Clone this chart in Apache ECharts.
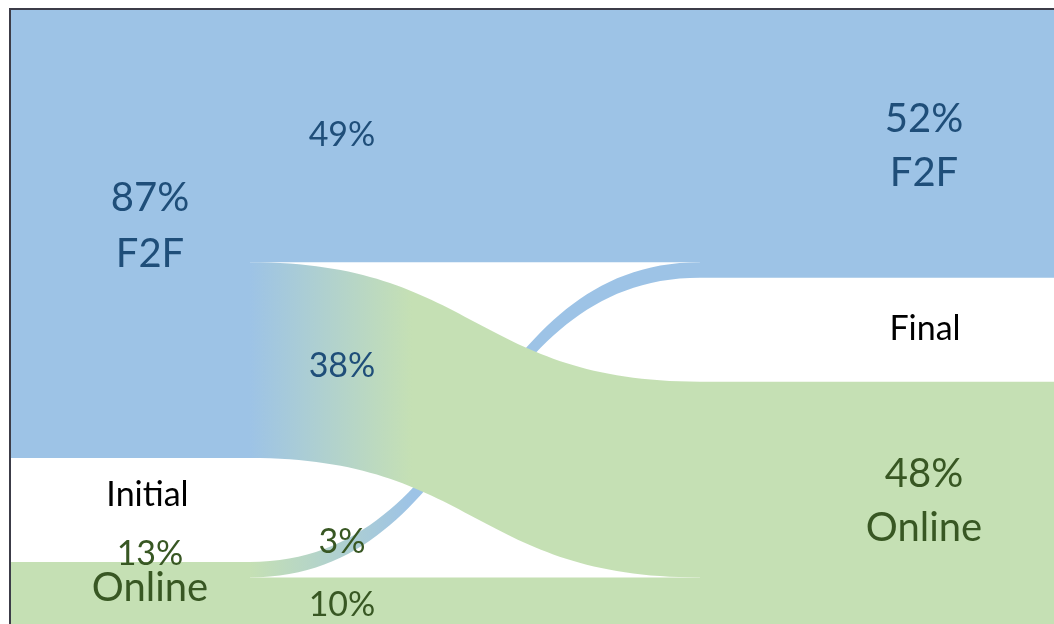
<!DOCTYPE html>
<html>
<head>
<meta charset="utf-8">
<script src="https://cdn.jsdelivr.net/npm/echarts@6/dist/echarts.min.js"></script>
<style>
html, body { margin: 0; padding: 0; background: #ffffff; width: 1054px; height: 624px; overflow: hidden; }
#chart { position: absolute; left: 9px; top: 8px; width: 1043px; height: 614px;
  border-left: 2px solid #3c3c48; border-top: 2px solid #3c3c48; }
</style>
</head>
<body>
<div id="chart"></div>
<script>
// ---- data ----
const stageLabels = ['Initial', 'Final'];
const nodeIds = ['Initial F2F', 'Initial Online', 'Final F2F', 'Final Online'];
const nodeModes = ['F2F', 'Online', 'F2F', 'Online'];
const nodeShares = [87, 13, 52, 48];
const linkSources = ['Initial F2F', 'Initial Online', 'Initial F2F', 'Initial Online'];
const linkTargets = ['Final F2F', 'Final F2F', 'Final Online', 'Final Online'];
const linkValues = [49, 3, 38, 10];

// ---- styles ----
const BLUE = '#9DC3E6';
const GREEN = '#C5E0B4';
const TXT_BLUE = '#1F4E79';
const TXT_GREEN = '#385723';
const FONT = 'Lato, "Open Sans", sans-serif';
const modeColor = { F2F: BLUE, Online: GREEN };
const modeText = { F2F: TXT_BLUE, Online: TXT_GREEN };
const nodeLabelOffsets = [[77, -8], [77, -24], [47, 2], [47, -4.5]];
const edgeLabelOffsets = [[-133, -1], [-133, 122], [-133, -54], [-133, 2]];

const chart = echarts.init(document.getElementById('chart'), null, { renderer: 'canvas' });

const nodes = nodeIds.map((id, i) => {
  const mode = nodeModes[i];
  const item = {
    name: id,
    value: nodeShares[i],
    itemStyle: { color: modeColor[mode], borderWidth: 0 },
    label: {
      show: true,
      position: 'inside',
      offset: nodeLabelOffsets[i],
      color: modeText[mode],
      fontFamily: FONT,
      fontSize: 40,
      lineHeight: i === 0 ? 56 : 54,
      align: 'center',
      formatter: nodeShares[i] + '%\n' + mode
    }
  };
  if (i === 1) {
    item.label.formatter = '{p|' + nodeShares[i] + '%}\n{n|' + mode + '}';
    item.label.rich = {
      p: { fontSize: 34, lineHeight: 34, color: modeText[mode], fontFamily: FONT },
      n: { fontSize: 40, lineHeight: 34, color: modeText[mode], fontFamily: FONT }
    };
  }
  return item;
});

function mixGradient(fromColor, toColor) {
  return new echarts.graphic.LinearGradient(0, 0, 1, 0, [
    { offset: 0.0, color: fromColor },
    { offset: 0.36, color: toColor },
    { offset: 1, color: toColor }
  ]);
}

const links = linkValues.map((v, i) => {
  const srcMode = nodeModes[nodeIds.indexOf(linkSources[i])];
  const tgtMode = nodeModes[nodeIds.indexOf(linkTargets[i])];
  const color = srcMode === tgtMode ? modeColor[srcMode] : mixGradient(modeColor[srcMode], modeColor[tgtMode]);
  return {
    source: linkSources[i],
    target: linkTargets[i],
    value: v,
    lineStyle: { color: color, opacity: 1, curveness: 0.5 },
    edgeLabel: {
      show: true,
      offset: edgeLabelOffsets[i],
      color: modeText[srcMode],
      fontFamily: FONT,
      fontSize: 34,
      formatter: v + '%'
    }
  };
});

const option = {
  animation: false,
  backgroundColor: '#ffffff',
  series: [{
    type: 'sankey',
    left: -115,
    right: 0,
    top: 0,
    bottom: -5,
    nodeWidth: 354,
    nodeGap: 104,
    layoutIterations: 0,
    draggable: false,
    silent: true,
    emphasis: { disabled: true },
    itemStyle: { borderWidth: 0 },
    lineStyle: { opacity: 1, curveness: 0.5 },
    edgeLabel: { show: true },
    data: nodes,
    links: links
  }],
  graphic: [
    { type: 'text', left: 136.5 - 60, top: 485 - 20, style: { text: stageLabels[0], x: 60, y: 20, fill: '#000000', font: '34px ' + FONT, textAlign: 'center', textVerticalAlign: 'middle' } },
    { type: 'text', x: 914, y: 319, style: { text: stageLabels[1], fill: '#000000', font: '34px ' + FONT, textAlign: 'center', textVerticalAlign: 'middle' } }
  ]
};
option.graphic[0] = { type: 'text', x: 136.5, y: 485, style: { text: stageLabels[0], fill: '#000000', font: '34px ' + FONT, textAlign: 'center', textVerticalAlign: 'middle' } };

chart.setOption(option);
</script>
</body>
</html>
